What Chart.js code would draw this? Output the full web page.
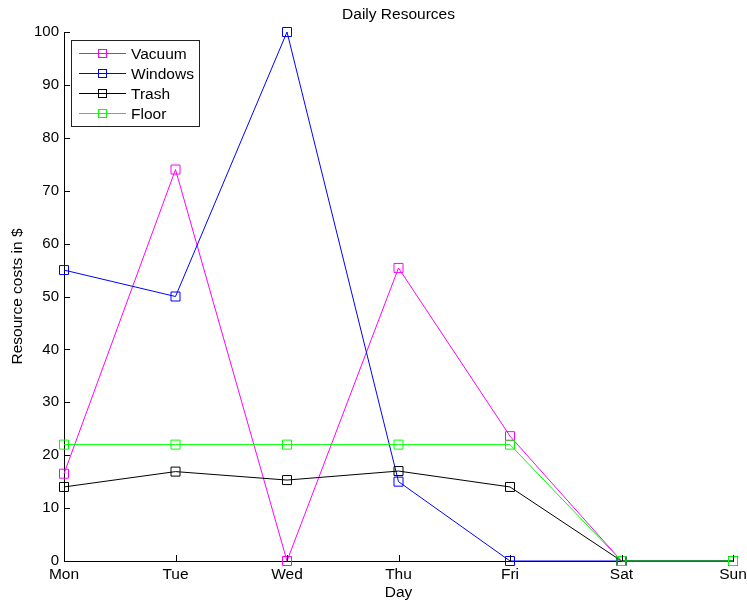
<!DOCTYPE html>
<html>
<head>
<meta charset="utf-8">
<script src="https://cdn.jsdelivr.net/npm/chart.js@4/dist/chart.umd.min.js"></script>
<style>
  html, body { margin: 0; padding: 0; background: #fff; }
  #wrap { width: 747px; height: 606px; }
</style>
</head>
<body>
<div id="wrap"><canvas id="c" width="747" height="606"></canvas></div>
<script>
// Days along the horizontal axis
const days = ['Mon', 'Tue', 'Wed', 'Thu', 'Fri', 'Sat', 'Sun'];

// Daily cost of each resource, in dollars
const vacuum  = [16.5, 74, 0, 55.4, 23.6, 0, 0];
const windows = [55, 50, 100, 15, 0, 0, 0];
const trash   = [14, 16.9, 15.3, 17, 14, 0, 0];
const floor   = [22, 22, 22, 22, 22, 0, 0];

const seriesNames  = ['Vacuum', 'Windows', 'Trash', 'Floor'];
const seriesColors = ['#ff00ff', '#0000ff', '#000000', '#00ff00'];
const seriesValues = [vacuum, windows, trash, floor];

const yTicks = [0, 10, 20, 30, 40, 50, 60, 70, 80, 90, 100];

const FONT = '"Liberation Sans", Arial, sans-serif';

// square markers 9px wide (rect half-side = radius * sqrt(1/2))
const MARKER_RADIUS = 4.5 * Math.SQRT2;

const datasets = seriesNames.map((name, i) => ({
  label: name,
  data: seriesValues[i],
  borderColor: seriesColors[i],
  backgroundColor: 'rgba(0,0,0,0)',
  borderWidth: 1,
  tension: 0,
  clip: false,
  pointStyle: 'rect',
  pointRadius: MARKER_RADIUS,
  pointHoverRadius: MARKER_RADIUS,
  pointBorderWidth: 1,
  pointBorderColor: seriesColors[i],
  pointBackgroundColor: 'rgba(0,0,0,0)',
  order: seriesNames.length - i
}));

// Inward tick marks, title, axis titles and an in-plot legend
const decorations = {
  id: 'decorations',
  afterDraw(chart) {
    const ctx = chart.ctx;
    const xs = chart.scales.x, ys = chart.scales.y;
    const a = chart.chartArea;
    ctx.save();
    ctx.strokeStyle = '#000';
    ctx.lineWidth = 1;
    ctx.beginPath();
    yTicks.forEach(v => {
      const y = Math.round(ys.getPixelForValue(v)) + 0.5;
      ctx.moveTo(a.left, y); ctx.lineTo(a.left + 6, y);
    });
    days.forEach((d, i) => {
      const x = Math.round(xs.getPixelForValue(i)) + 0.5;
      ctx.moveTo(x, a.bottom); ctx.lineTo(x, a.bottom - 6);
    });
    ctx.stroke();

    ctx.fillStyle = '#000';
    ctx.font = '15.5px ' + FONT;
    ctx.textAlign = 'center';
    ctx.textBaseline = 'middle';
    const cx = (a.left + a.right) / 2;
    ctx.fillText('Daily Resources', cx, 15);
    ctx.fillText('Day', cx, 593);
    ctx.save();
    ctx.translate(18, (a.top + a.bottom) / 2);
    ctx.rotate(-Math.PI / 2);
    ctx.fillText('Resource costs in $', 0, 0);
    ctx.restore();

    // legend box
    const lx = 71, ly = 40, lw = 128, lh = 86;
    ctx.fillStyle = '#fff';
    ctx.fillRect(lx, ly, lw, lh);
    ctx.strokeStyle = '#222';
    ctx.strokeRect(lx + 0.5, ly + 0.5, lw, lh);
    ctx.textAlign = 'left';
    ctx.font = '15.5px ' + FONT;
    seriesNames.forEach((name, i) => {
      const y = Math.round(53 + i * 20) + 0.5;
      ctx.strokeStyle = seriesColors[i];
      ctx.beginPath();
      ctx.moveTo(79, y); ctx.lineTo(126, y);
      ctx.stroke();
      ctx.strokeRect(98.5, y - 4, 8, 8);
      ctx.fillStyle = '#000';
      ctx.fillText(name, 131, y + 1);
    });
    ctx.restore();
  }
};

new Chart(document.getElementById('c'), {
  type: 'line',
  data: { labels: days, datasets },
  options: {
    responsive: false,
    animation: false,
    events: [],
    layout: { padding: { top: 32, right: 14, bottom: 0, left: 0 } },
    plugins: { legend: { display: false }, tooltip: { enabled: false }, title: { display: false } },
    scales: {
      x: {
        offset: false,
        grid: { display: true, drawOnChartArea: false, drawTicks: false },
        border: { display: true, color: '#000', width: 1 },
        ticks: { color: '#000', font: { family: FONT, size: 15.5 }, padding: 4, maxRotation: 0, autoSkip: false },
        afterFit(s) { s.height = 45; s.paddingLeft = 0; s.paddingRight = 0; }
      },
      y: {
        min: 0, max: 100,
        grid: { display: true, drawOnChartArea: false, drawTicks: false },
        border: { display: true, color: '#000', width: 1 },
        ticks: { stepSize: 10, color: '#000', font: { family: FONT, size: 15 }, padding: 5 },
        afterFit(s) { s.width = 64; s.paddingTop = 0; s.paddingBottom = 0; }
      }
    }
  },
  plugins: [decorations]
});
</script>
</body>
</html>
